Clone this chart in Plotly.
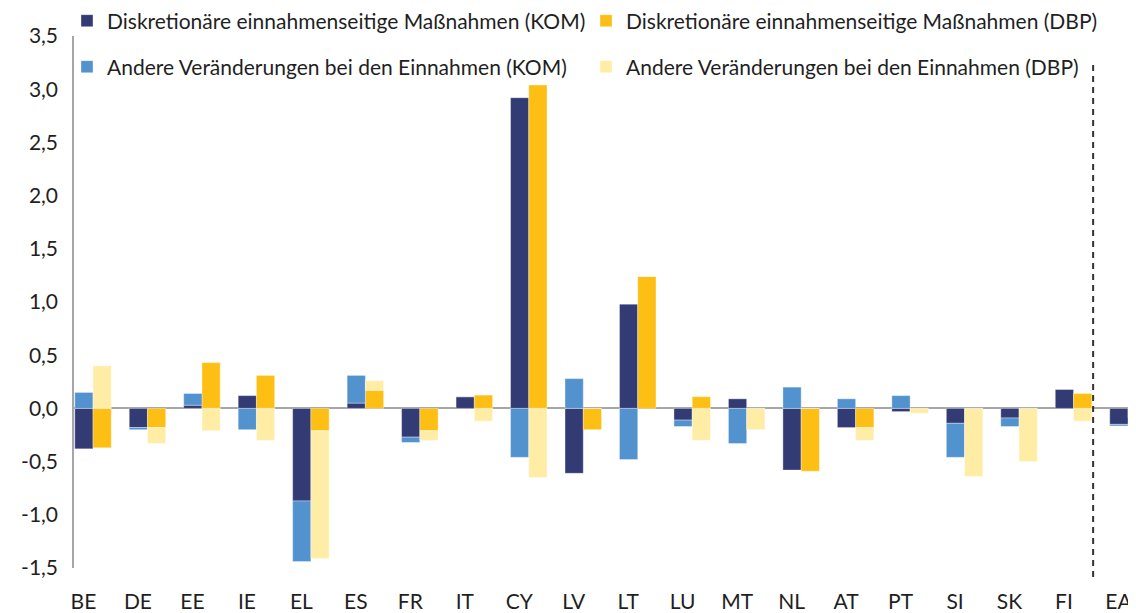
import plotly.graph_objects as go

countries = ["BE", "DE", "EE", "IE", "EL", "ES", "FR", "IT", "CY", "LV",
             "LT", "LU", "MT", "NL", "AT", "PT", "SI", "SK", "FI", "EA"]

disc_kom = [-0.38, -0.18, 0.03, 0.12, -0.87, 0.05, -0.27, 0.11, 2.92, -0.61,
            0.98, -0.11, 0.09, -0.58, -0.18, -0.03, -0.14, -0.09, 0.18, -0.15]
other_kom = [0.15, -0.02, 0.11, -0.20, -0.57, 0.26, -0.05, 0.0, -0.46, 0.28,
             -0.48, -0.06, -0.33, 0.20, 0.09, 0.12, -0.32, -0.08, 0.0, -0.015]
disc_dbp = [-0.37, -0.18, 0.43, 0.31, -0.21, 0.17, -0.21, 0.125, 3.04, -0.20,
            1.24, 0.11, 0.0, -0.59, -0.18, 0.0, 0.0, 0.0, 0.14, -0.09]
other_dbp = [0.40, -0.15, -0.21, -0.30, -1.20, 0.09, -0.09, -0.12, -0.65, 0.0,
             0.0, -0.30, -0.20, 0.0, -0.12, -0.045, -0.64, -0.50, -0.12, 0.0]

names = ["Diskretionäre einnahmenseitige Maßnahmen (KOM)",
         "Diskretionäre einnahmenseitige Maßnahmen (DBP)",
         "Andere Veränderungen bei den Einnahmen (KOM)",
         "Andere Veränderungen bei den Einnahmen (DBP)"]

y_ticks = [-1.5, -1.0, -0.5, 0.0, 0.5, 1.0, 1.5, 2.0, 2.5, 3.0, 3.5]
y_ticktext = ["-1,5", "-1,0", "-0,5", "0,0", "0,5", "1,0", "1,5", "2,0", "2,5", "3,0", "3,5"]

NAVY = "#333B74"
LBLUE = "#5292CF"
ORANGE = "#FDBF13"
LYELLOW = "#FFEDA6"

FONT = "Lato"
TXT = "#1f1f1f"

xpos = list(range(len(countries)))
label_shift = 0.175

fig = go.Figure()
series = [(disc_kom, names[0], NAVY, "KOM", "legend"),
          (disc_dbp, names[1], ORANGE, "DBP", "legend2"),
          (other_kom, names[2], LBLUE, "KOM", "legend3"),
          (other_dbp, names[3], LYELLOW, "DBP", "legend4")]
for vals, nm, col, grp, lg in series:
    fig.add_trace(go.Bar(
        x=xpos, y=vals, name=nm, offsetgroup=grp, legend=lg, showlegend=True,
        marker=dict(color=col, line=dict(width=0.8, color="rgba(255,255,255,0.45)")),
    ))


def leg(x, y):
    return dict(orientation="h", x=x, xanchor="left", y=y, yanchor="middle",
                itemwidth=30, font=dict(family=FONT, size=21, color=TXT),
                bgcolor="rgba(0,0,0,0)", visible=True)


col1_x, col2_x = -0.0066, 0.4821
row1_y, row2_y = 1.0282, 0.9417

fig.update_layout(
    width=1128, height=605,
    margin=dict(l=66, r=0, t=28, b=45, autoexpand=False),
    plot_bgcolor="white", paper_bgcolor="white",
    barmode="relative", bargap=0.33,
    showlegend=True,
    font=dict(family=FONT, size=21, color=TXT),
    legend=leg(col1_x, row1_y),
    legend2=leg(col2_x, row1_y),
    legend3=leg(col1_x, row2_y),
    legend4=leg(col2_x, row2_y),
    xaxis=dict(range=[-0.349, 19.147], tickvals=[p - label_shift for p in xpos],
               ticktext=countries, showgrid=False, zeroline=False, showline=False,
               ticks="", ticklabelstandoff=19,
               tickfont=dict(family=FONT, size=21, color=TXT)),
    yaxis=dict(range=[-1.5, 3.5], tickvals=y_ticks, ticktext=y_ticktext,
               showgrid=False, zeroline=True, zerolinecolor="#A6A6A6", zerolinewidth=2,
               showline=True, linecolor="#A6A6A6", linewidth=1.5, ticks="",
               ticklabelstandoff=10, layer="above traces",
               tickfont=dict(family=FONT, size=21, color=TXT)),
    shapes=[dict(type="line", xref="x", yref="paper", x0=18.36, x1=18.36,
                 y0=-0.017, y1=0.955, line=dict(color="#333333", width=2, dash="6px,5px"))],
)

fig.write_html("out.html")
